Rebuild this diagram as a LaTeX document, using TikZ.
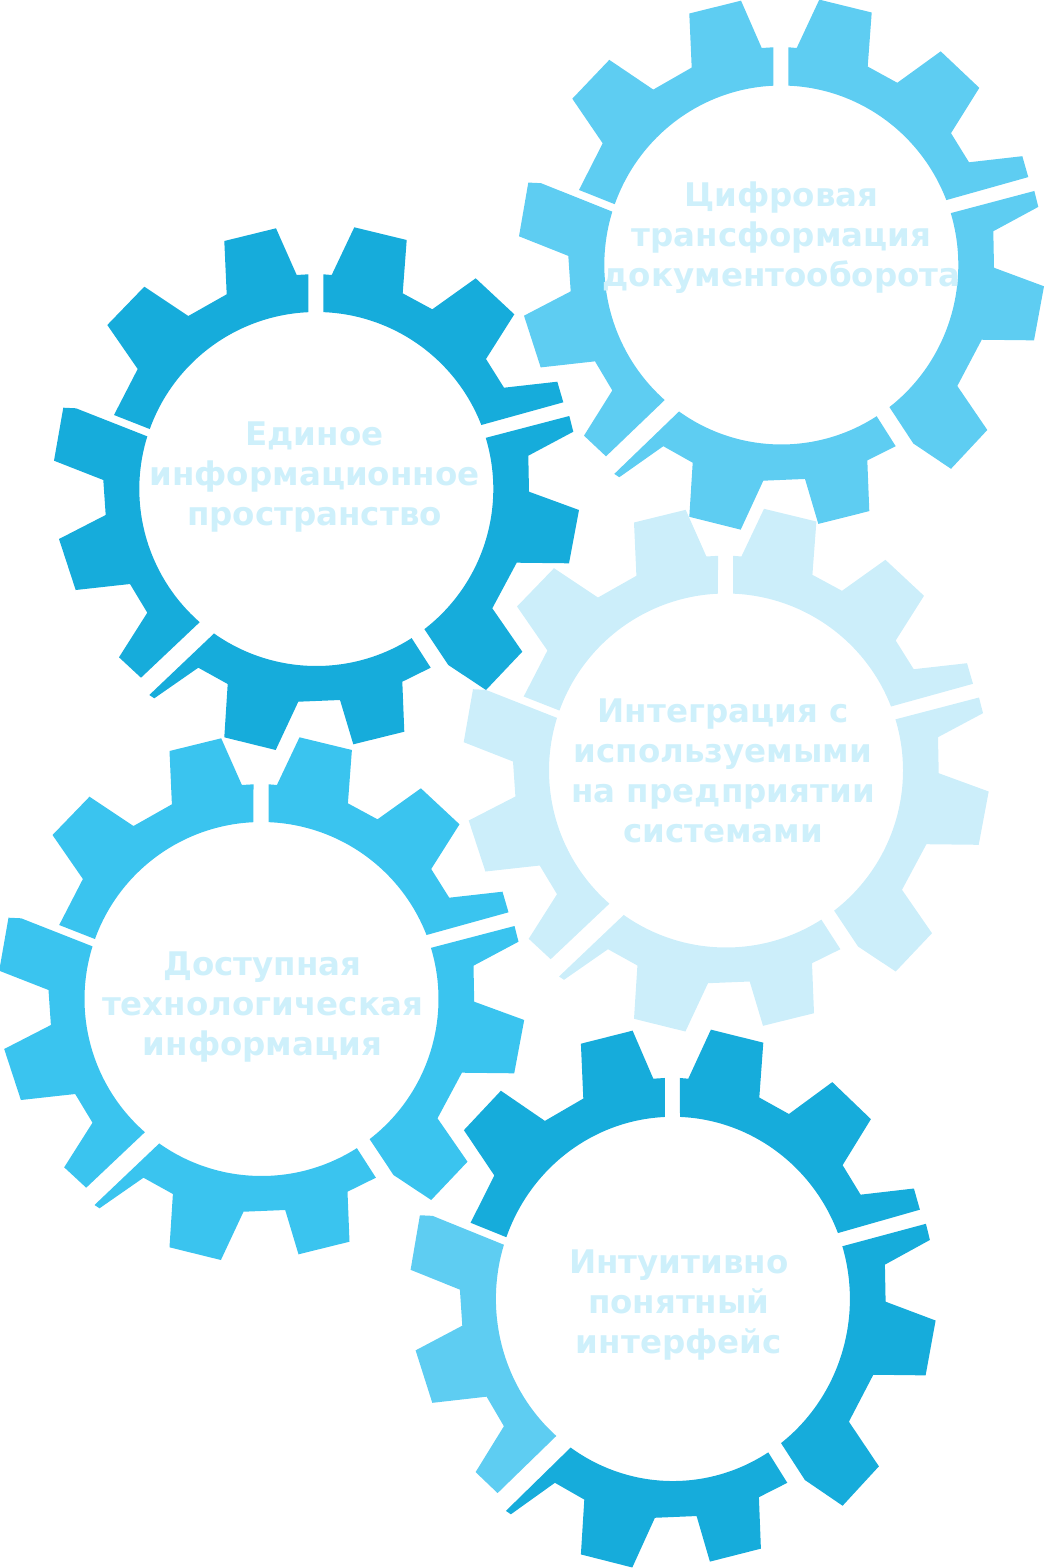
\documentclass[tikz,border=0pt]{standalone}
\usepackage{fontspec}
\setmainfont{DejaVu Sans}
\definecolor{gearblue}{HTML}{16ACDB}
\definecolor{gearsky}{HTML}{5ECDF2}
\definecolor{gearcyan}{HTML}{3AC4EF}
\definecolor{gearpale}{HTML}{CCEEFA}
\definecolor{labelpale}{HTML}{CEF0FB}

% five pieces of one gear, centre at the origin
\newcommand{\gearsegA}{(87.7:177) -- (7.0,214.7) -- (15.4,214.0) -- (38.0,261.7) -- (90.4,249.0) -- (86.4,195.7) -- (116.0,179.7) -- (159.4,210.7) -- (198.0,174.7) -- (169.7,130.0) -- (187.7,101.3) -- (241.0,107.3) -- (247.0,86.7) -- (21.2:177) arc[start angle=21.2, end angle=87.7, radius=177] -- cycle}
\newcommand{\gearsegB}{(16.8:177) -- (253.0,73.0) -- (257.0,57.3) -- (212.0,33.3) -- (212.7,-2.7) -- (262.7,-21.0) -- (252.7,-74.3) -- (200.4,-73.7) -- (176.0,-119.3) -- (206.0,-162.7) -- (169.7,-201.0) -- (132.0,-176.0) -- (-52.35:177) arc[start angle=-52.35, end angle=16.8, radius=177] -- cycle}
\newcommand{\gearsegC}{(-57.4:177) -- (114.4,-178.7) -- (86.0,-192.7) -- (88.0,-242.7) -- (37.0,-255.3) -- (23.7,-211.0) -- (-18.0,-212.7) -- (-40.6,-261.0) -- (-92.0,-248.3) -- (-88.6,-195.0) -- (-118.0,-178.7) -- (-162.0,-209.3) -- (-167.0,-206.0) -- (-125.3:177) arc[start angle=-125.3, end angle=-57.4, radius=177] -- cycle}
\newcommand{\gearsegD}{(-131.2:177) -- (-175.3,-188.7) -- (-197.3,-168.3) -- (-169.0,-123.7) -- (-186.3,-95.0) -- (-240.6,-101.0) -- (-257.3,-50.0) -- (-210.6,-26.0) -- (-213.0,9.0) -- (-262.3,28.3) -- (-253.0,81.3) -- (-240.3,80.7) -- (162.7:177) arc[start angle=162.7, end angle=228.8, radius=177] -- cycle}
\newcommand{\gearsegE}{(160.2:177) -- (-202.3,74.0) -- (-178.6,120.0) -- (-209.0,164.0) -- (-172.0,202.3) -- (-128.0,173.0) -- (-89.6,194.7) -- (-92.0,248.0) -- (-40.3,260.7) -- (-19.6,214.0) -- (-8.0,214.7) -- (92.6:177) arc[start angle=92.6, end angle=160.2, radius=177] -- cycle}

\begin{document}
\begin{tikzpicture}[
x=1pt, y=1pt,
gearlabel/.style={
text=labelpale,
font=\fontsize{32.5}{40}\selectfont\bfseries,
align=center,
inner sep=0pt
},
pics/gear/.style n args={5}{code={
\fill[#1] \gearsegA;
\fill[#2] \gearsegB;
\fill[#3] \gearsegC;
\fill[#4] \gearsegD;
\fill[#5] \gearsegE;
}}
]
\useasboundingbox (0,-1568) rectangle (1044,0);

% gears
\pic at (316.3,-489) {gear={gearblue}{gearblue}{gearblue}{gearblue}{gearblue}};
\pic[yscale=1.014] at (781.3,-265) {gear={gearsky}{gearsky}{gearsky}{gearsky}{gearsky}};
\pic at (726,-770.5) {gear={gearpale}{gearpale}{gearpale}{gearpale}{gearpale}};
\pic at (261.5,-999) {gear={gearcyan}{gearcyan}{gearcyan}{gearcyan}{gearcyan}};
\pic[yscale=1.029] at (672.9,-1298.9) {gear={gearblue}{gearblue}{gearblue}{gearsky}{gearblue}};

% labels
\node[gearlabel] (space) at (314.5,-477.5) {Единое\\информационное\\пространство};
\node[gearlabel] (digital) at (781.5,-237.3) {Цифровая\\трансформация\\документооборота};
\node[gearlabel] (integration) at (723,-770.4) {Интеграция с\\используемыми\\на предприятии\\системами};
\node[gearlabel] (techinfo) at (262.5,-1007.5) {Доступная\\технологическая\\информация};
\node[gearlabel] (interface) at (678.8,-1305.5) {Интуитивно\\понятный\\интерфейс};

\end{tikzpicture}
\end{document}
